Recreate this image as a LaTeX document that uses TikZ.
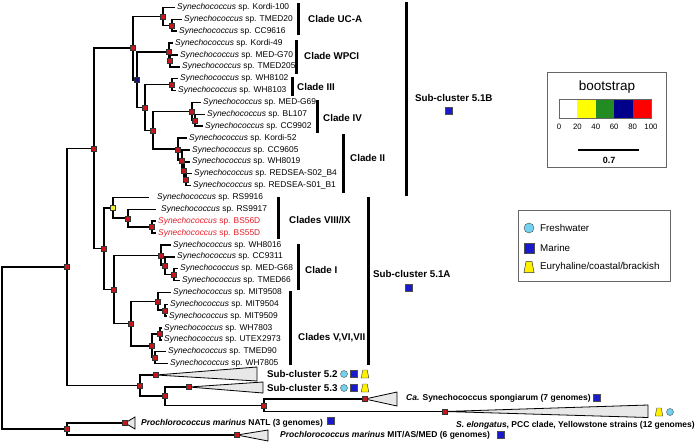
\documentclass[tikz,border=0pt]{standalone}
\usepackage{fontspec}
\setmainfont{Liberation Sans}
\definecolor{mkred}{RGB}{195,25,30}
\definecolor{mknav}{RGB}{20,20,120}
\definecolor{mkyel}{RGB}{240,240,40}
\definecolor{fwc}{RGB}{115,210,238}
\definecolor{mac}{RGB}{25,25,205}
\definecolor{euc}{RGB}{255,240,0}
\definecolor{labred}{RGB}{230,30,40}
\definecolor{bsyel}{RGB}{255,255,0}
\definecolor{bsgrn}{RGB}{34,139,34}
\definecolor{bsnav}{RGB}{0,0,139}
\definecolor{bsred}{RGB}{255,0,0}
\begin{document}
\begin{tikzpicture}[x=1pt,y=-1pt,
  br/.style={line width=1.5pt},
  mk/.style={rectangle, fill=mkred, draw=black!80, line width=0.3pt, minimum size=5pt, inner sep=0pt},
  tx/.style={font=\fontsize{8.4}{10}\selectfont, anchor=west, inner sep=0pt, text height=6pt, text depth=1.8pt},
  cl/.style={font=\fontsize{9.8}{11}\selectfont\bfseries, anchor=west, inner sep=0pt},
  gl/.style={font=\fontsize{8.5}{10}\selectfont\bfseries, anchor=west, inner sep=0pt},
  lg/.style={font=\fontsize{9.8}{11}\selectfont, anchor=west, inner sep=0pt},
  cbar/.style={line width=3pt},
  tri/.style={draw=black, fill=black!9, line width=0.8pt, line join=miter},
  fw/.style={circle, draw=black!70, fill=fwc, minimum size=7pt, inner sep=0pt, line width=0.4pt},
  ma/.style={rectangle, draw=black!70, fill=mac, minimum size=7pt, inner sep=0pt, line width=0.4pt},
  eus/.pic={\draw[draw=black!80, fill=euc, line width=0.4pt] (-3.8,4) -- (3.8,4) -- (2.2,-4) -- (-2.2,-4) -- cycle;},
  eub/.pic={\draw[draw=black!80, fill=euc, line width=0.5pt] (-5,5.5) -- (5,5.5) -- (3,-5.5) -- (-3,-5.5) -- cycle;}
]
\fill[white] (0,0) rectangle (699,442);
\useasboundingbox (0,0) rectangle (699,442);

% internal nodes
\coordinate (root) at (2,348);
\coordinate (A) at (67,267);
\coordinate (P) at (67,429);
\coordinate (B) at (94,148.4);
\coordinate (SB) at (133,48.1);
\coordinate (uca) at (163,16.4);
\coordinate (ucb) at (172,25.3);
\coordinate (X) at (137,79.8);
\coordinate (wp) at (169,52.0);
\coordinate (wpb) at (170,61.0);
\coordinate (Y) at (145,107.5);
\coordinate (c3) at (172,84.7);
\coordinate (Z) at (153,130.3);
\coordinate (c4) at (192,111.4);
\coordinate (c4b) at (195,120.3);
\coordinate (c2) at (178,149.2);
\coordinate (c2b) at (182,160.3);
\coordinate (c2c) at (184,170.7);
\coordinate (c2d) at (186,179.7);
\coordinate (SA) at (104,248.7);
\coordinate (c8) at (113,207.8);
\coordinate (c8b) at (128,218.2);
\coordinate (c8c) at (152,227.1);
\coordinate (IV5) at (114,289.5);
\coordinate (c1) at (161,255.3);
\coordinate (c1b) at (165,265.7);
\coordinate (c1c) at (174,274.6);
\coordinate (c5) at (131,323.6);
\coordinate (c5a) at (158,301.3);
\coordinate (c5b) at (165,310.2);
\coordinate (c5c) at (152,345.8);
\coordinate (c5d) at (160,334.0);
\coordinate (c5e) at (155,357.7);
\coordinate (S23) at (140,385.5);
\coordinate (t52) at (156,375);
\coordinate (W) at (165,396);
\coordinate (t53) at (189,387);
\coordinate (V2) at (264,405.3);
\coordinate (tsp) at (365,399);
\coordinate (tel) at (445,411.5);
\coordinate (tna) at (125,423);
\coordinate (tmi) at (237,435);

% internal edges
\foreach \a/\b in {root/A,root/P,A/B,A/S23,B/SB,B/SA,SB/uca,SB/X,uca/ucb,X/wp,X/Y,wp/wpb,Y/c3,Y/Z,Z/c4,Z/c2,c4/c4b,c2/c2b,c2b/c2c,c2c/c2d,SA/c8,SA/IV5,c8/c8b,c8b/c8c,IV5/c1,IV5/c5,c1/c1b,c1b/c1c,c5/c5a,c5/c5c,c5a/c5b,c5c/c5d,c5c/c5e,S23/t52,S23/W,W/t53,W/V2,V2/tsp,V2/tel,P/tna,P/tmi}
  {\draw[br] (\a) |- (\b);}

% leaves
\foreach \i/\p/\le/\lx/\nm/\cc in {
 0/uca/175/177/Kordi-100/black,
 1/ucb/182/184/TMED20/black,
 2/ucb/177/179/CC9616/black,
 3/wp/173/175/Kordi-49/black,
 4/wpb/178/180/MED-G70/black,
 5/wpb/180/182/TMED205/black,
 6/c3/178/180/WH8102/black,
 7/c3/176/178/WH8103/black,
 8/c4/201/203/MED-G69/black,
 9/c4b/205/207/BL107/black,
 10/c4b/203/205/CC9902/black,
 11/c2/187/189/Kordi-52/black,
 12/c2b/190/192/CC9605/black,
 13/c2c/190/192/WH8019/black,
 14/c2d/192/194/REDSEA-S02\_B4/black,
 15/c2d/191/193/REDSEA-S01\_B1/black,
 16/c8/149/157/RS9916/black,
 17/c8b/156/161/RS9917/black,
 18/c8c/156/158/BS56D/labred,
 19/c8c/156/158/BS55D/labred,
 20/c1/171/173/WH8016/black,
 21/c1b/175/177/CC9311/black,
 22/c1c/178/180/MED-G68/black,
 23/c1c/180/182/TMED66/black,
 24/c5a/171/173/MIT9508/black,
 25/c5b/168/170/MIT9504/black,
 26/c5b/167/169/MIT9509/black,
 27/c5d/162/164/WH7803/black,
 28/c5d/162/164/UTEX2973/black,
 29/c5e/166/168/TMED90/black,
 30/c5e/168/170/WH7805/black}
{
  \pgfmathsetmacro\yy{7.5+11.87*\i}
  \coordinate (leaf\i) at (\le,\yy);
  \draw[br] (\p) |- (leaf\i);
  \node[tx, text=\cc] (lab\i) at (\lx,\yy) {\textit{Synechococcus} sp. \nm};
}

% collapsed clades
\draw[tri] (t52) -- (257,367) -- (257,381) -- cycle;
\draw[tri] (t53) -- (263,382) -- (263,393) -- cycle;
\draw[tri] (tsp) -- (397,392) -- (397,406) -- cycle;
\draw[tri] (tel) -- (648,405) -- (648,417.5) -- cycle;
\draw[tri] (tna) -- (135,417) -- (135,429) -- cycle;
\draw[tri] (tmi) -- (268,430) -- (268,441) -- cycle;

% bootstrap markers
\foreach \n in {A,P,B,SB,uca,ucb,wp,wpb,Y,c3,Z,c4,c4b,c2,c2b,c2c,c2d,SA,c8b,c8c,IV5,c1,c1b,c1c,c5,c5a,c5b,c5c,c5d,c5e,S23,t52,W,t53,V2,tsp,tel,tna,tmi}
  {\node[mk] (m\n) at (\n) {};}
\node[mk, fill=mknav] (mX) at (X) {};
\node[mk, fill=mkyel] (mc8) at (c8) {};

% clade bars
\draw[cbar] (298,3) -- (298,35);
\draw[cbar] (296,40) -- (296,74);
\draw[cbar] (292,77) -- (292,96);
\draw[cbar] (317,100) -- (317,133);
\draw[cbar] (343,134) -- (343,193);
\draw[cbar] (406,2) -- (406,196);
\draw[cbar] (278,197) -- (278,239);
\draw[cbar] (298,244) -- (298,290);
\draw[cbar] (368,197) -- (368,365);
\draw[cbar] (290,291) -- (290,365);

% clade labels
\node[cl] (lUCA) at (308,19) {Clade UC-A};
\node[cl] (lWPCI) at (304,56) {Clade WPCI};
\node[cl] (lIII) at (297,87) {Clade III};
\node[cl] (lIV) at (323,118) {Clade IV};
\node[cl] (lII) at (350,158) {Clade II};
\node[cl] (l51B) at (415,98) {Sub-cluster 5.1B};
\node[cl] (lVIII) at (289,220) {Clades VIII/IX};
\node[cl] (lI) at (305,270) {Clade I};
\node[cl] (l51A) at (373,274) {Sub-cluster 5.1A};
\node[cl] (lV) at (298,338) {Clades V,VI,VII};
\node[cl] (l52) at (267,374) {Sub-cluster 5.2};
\node[cl] (l53) at (267,388) {Sub-cluster 5.3};
\node[gl] (lsp) at (406,398) {\textit{Ca.} Synechococcus spongiarum (7 genomes)};
\node[gl] (lel) at (456,425) {\textit{S. elongatus}, PCC clade, Yellowstone strains (12 genomes)};
\node[gl] (lna) at (141,423) {\textit{Prochlorococcus marinus} NATL (3 genomes)};
\node[gl] (lmi) at (280,435) {\textit{Prochlorococcus marinus} MIT/AS/MED (6 genomes)};

% habitat symbols
\node[ma] (s51B) at (449,111) {};
\node[ma] (s51A) at (409,288) {};
\node[fw] (f52) at (344,374) {};
\node[ma] (s52) at (354,374) {};
\pic (e52) at (365,374) {eus};
\node[fw] (f53) at (344,388) {};
\node[ma] (s53) at (354,388) {};
\pic (e53) at (365,388) {eus};
\node[ma] (ssp) at (597,398) {};
\pic (eel) at (659,412) {eus};
\node[fw] (fel) at (670,412) {};
\node[ma] (sna) at (331,421) {};
\node[ma] (smi) at (501,435) {};

% bootstrap legend
\node[draw=black!60, line width=0.7pt, minimum width=119pt, minimum height=95pt, inner sep=0pt] (bsbox) at (606.5,119.5) {};
\node[font=\fontsize{13.5}{15}\selectfont, inner sep=0pt] (bstitle) at (607,87) {bootstrap};
\foreach \c [count=\k from 0] in {white,bsyel,bsgrn,bsnav,bsred}
  {\fill[\c] (559+18.4*\k,99) rectangle ++(18.4,19);}
\draw[black!60, line width=0.6pt] (559,99) rectangle (651,118);
\foreach \v [count=\k from 0] in {0,20,40,60,80,100}
  {\node[font=\fontsize{7.8}{9}\selectfont, inner sep=0pt] (bn\k) at (559+18.4*\k,127) {\v};}
\coordinate (sc1) at (578,150);
\coordinate (sc2) at (639,150);
\draw[line width=2pt] (sc1) -- (sc2);
\node[font=\fontsize{9}{10}\selectfont\bfseries, inner sep=0pt] (scl) at (609,160) {0.7};

% habitat legend
\node[draw=black!60, line width=0.7pt, minimum width=152pt, minimum height=71pt, inner sep=0pt] (hbox) at (594,245.5) {};
\node[fw, minimum size=10pt] (hfw) at (529,228) {};
\node[ma, minimum size=10pt] (hma) at (529,248) {};
\pic (heu) at (529,267) {eub};
\node[lg] (tfw) at (540,228) {Freshwater};
\node[lg] (tma) at (540,248) {Marine};
\node[lg] (teu) at (540,267) {Euryhaline/coastal/brackish};
\end{tikzpicture}
\end{document}
